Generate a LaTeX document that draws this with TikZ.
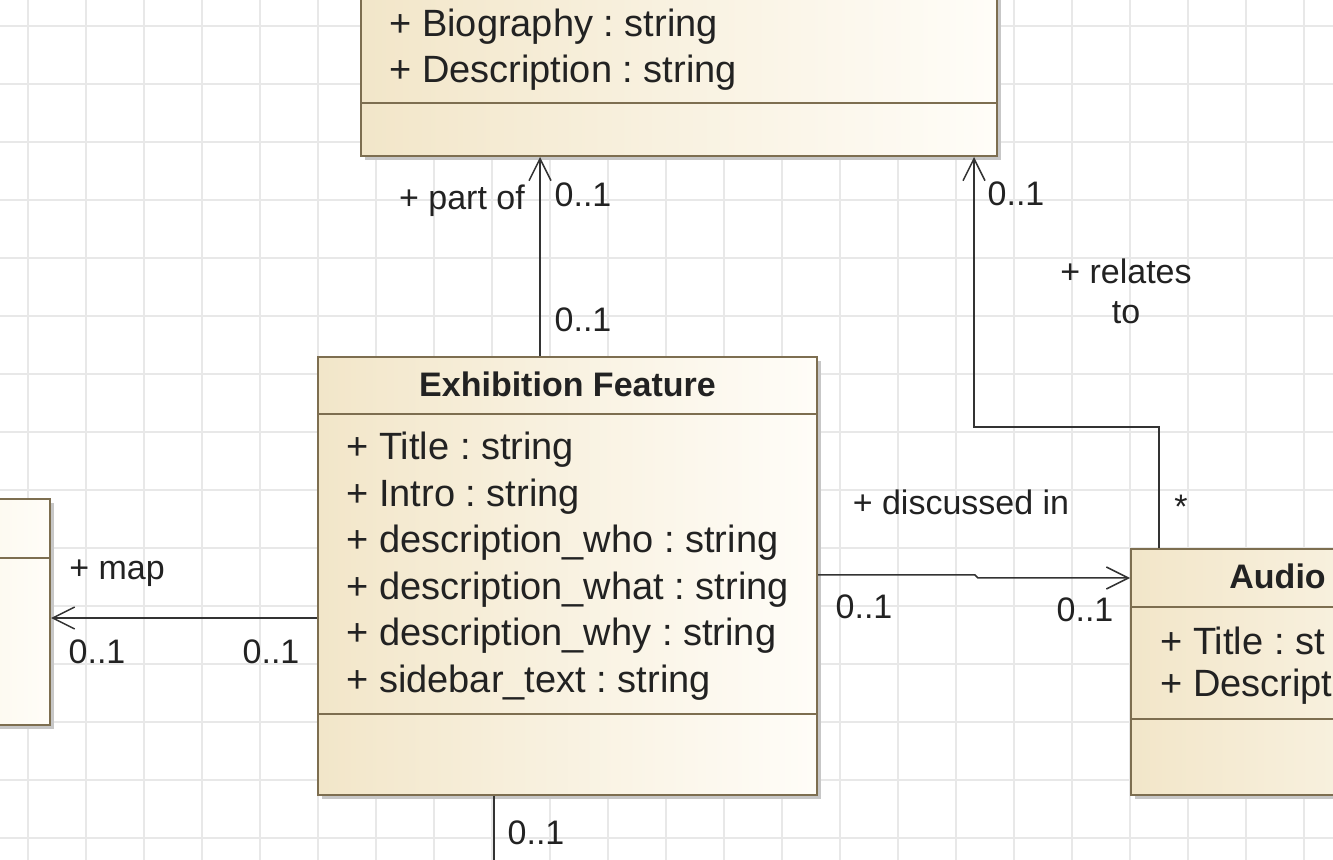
\documentclass[tikz,border=0pt]{standalone}
\usepackage{fontspec}
\setmainfont{Liberation Sans}
\usetikzlibrary{arrows.meta,fit,calc}
\definecolor{boxL}{HTML}{F2E6C9}
\definecolor{boxR}{HTML}{FFFDF8}
\definecolor{boxLine}{HTML}{7D6E50}
\definecolor{gridc}{HTML}{E8E8E8}
\definecolor{ink}{HTML}{222222}
\begin{document}
\frenchspacing
\begin{tikzpicture}[x=0.5pt,y=-0.5pt,
  umlbox/.style={draw=boxLine, line width=1pt, left color=boxL, right color=boxR, inner sep=0pt},
  shadowrect/.style={fill=black!22, draw=none},
  attr/.style={anchor=west, inner sep=0pt, text=ink, font=\fontsize{19}{23}\selectfont},
  ttl/.style={anchor=center, inner sep=0pt, text=ink, font=\fontsize{17}{20}\selectfont\bfseries},
  lbl/.style={inner sep=0pt, text=ink, font=\fontsize{17}{20}\selectfont},
  sepline/.style={draw=boxLine, line width=1pt},
  assoc/.style={draw=black!80, line width=0.75pt, -{Straight Barb[length=11pt,width=11pt,line width=0.75pt]}},
  plainline/.style={draw=black!80, line width=0.75pt}]
\useasboundingbox (0,0) rectangle (1333,860);
\fill[white] (0,0) rectangle (1333,860);
% grid
\foreach \gx in {28,86,...,1333} \draw[gridc, line width=0.6pt] (\gx,0) -- (\gx,860);
\foreach \gy in {26,84,...,860} \draw[gridc, line width=0.6pt] (0,\gy) -- (1333,\gy);

% shadows
\fill[shadowrect] (365,-70) rectangle (1001,160);
\fill[shadowrect] (322,361) rectangle (821,799);
\fill[shadowrect] (-300,503) rectangle (54,729);
\fill[shadowrect] (1135,553) rectangle (1600,799);

% top box
\node[umlbox, fit={(361,-70) (997,156)}] (top) {};
\draw[sepline] (361,103) -- (997,103);
\node[attr] (topa1) at (389,27) {+ Biography : string};
\node[attr] (topa2) at (389,73) {+ Description : string};

% Exhibition Feature
\node[umlbox, fit={(318,357) (817,795)}] (ef) {};
\node[ttl] (eft) at (567.5,384) {Exhibition Feature};
\draw[sepline] (318,414) -- (817,414);
\node[attr] (efa1) at (346,450) {+ Title : string};
\node[attr] (efa2) at (346,497) {+ Intro : string};
\node[attr] (efa3) at (346,543) {+ description\_who : string};
\node[attr] (efa4) at (346,590) {+ description\_what : string};
\node[attr] (efa5) at (346,636) {+ description\_why : string};
\node[attr] (efa6) at (346,683) {+ sidebar\_text : string};
\draw[sepline] (318,714) -- (817,714);

% left box
\node[umlbox, fit={(-300,499) (50,725)}] (lb) {};
\draw[sepline] (-300,558) -- (50,558);

% Audio box
\node[umlbox, fit={(1131,549) (1600,795)}] (au) {};
\node[ttl, anchor=west] (aut) at (1229,576) {Audio};
\draw[sepline] (1131,607) -- (1600,607);
\node[attr] (aua1) at (1160,641) {+ Title : st};
\node[attr] (aua2) at (1160,687) {+ Descript};
\draw[sepline] (1131,719) -- (1600,719);

% connectors
\coordinate (p1) at ([xshift=111.5pt]ef.north west);
\draw[assoc] (p1) -- (p1 |- top.south);
\coordinate (p2) at ([xshift=14.5pt]au.north west);
\coordinate (bend) at (974,427);
\draw[assoc] (p2) |- (bend) -- (bend |- top.south);
\draw[assoc] (ef.east |- 0,575) -- (975,575) -- (978,578) -- (au.west |- 0,578);
\draw[assoc] (ef.west |- 0,618) -- (lb.east |- 0,618);
\coordinate (down) at (494,880);
\draw[plainline] (ef.south -| down) -- (down);

% labels
\node[lbl] (l1) at (462,201) {+ part of};
\node[lbl] (l2) at (583,195) {0..1};
\node[lbl] (l3) at (583,320) {0..1};
\node[lbl] (l4) at (1016,194) {0..1};
\node[lbl, align=center] (l5) at (1126,291) {+ relates\\to};
\node[lbl] (l6) at (1181,507) {*};
\node[lbl] (l7) at (961,502) {+ discussed in};
\node[lbl] (l8) at (864,607) {0..1};
\node[lbl] (l9) at (1085,610) {0..1};
\node[lbl] (l10) at (117,573) {+ map};
\node[lbl] (l11) at (97,652) {0..1};
\node[lbl] (l12) at (271,652) {0..1};
\node[lbl] (l13) at (536,833) {0..1};
\end{tikzpicture}
\end{document}
